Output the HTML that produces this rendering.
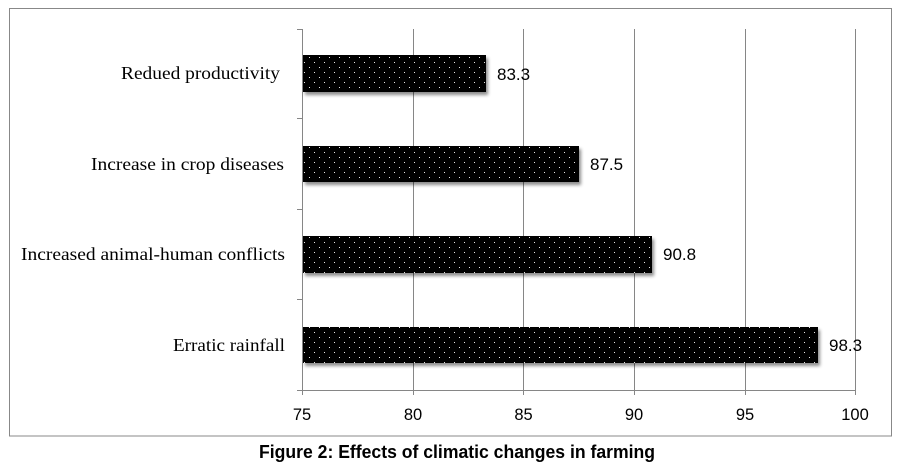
<!DOCTYPE html>
<html>
<head>
<meta charset="utf-8">
<style>
  html, body { margin:0; padding:0; background:#fff; }
  svg { display:block; }
</style>
</head>
<body>
<svg width="897" height="468" viewBox="0 0 897 468" xmlns="http://www.w3.org/2000/svg">
  <defs>
    <pattern id="dots" x="302" y="0" width="10" height="10" patternUnits="userSpaceOnUse">
      <rect width="10" height="10" fill="#000"/>
      <rect x="2" y="2" width="1" height="1" fill="#e8e8e8"/>
      <rect x="7" y="7" width="1" height="1" fill="#e8e8e8"/>
    </pattern>
    <filter id="sh" x="-5%" y="-20%" width="110%" height="160%">
      <feDropShadow dx="2" dy="3" stdDeviation="1.6" flood-color="#000" flood-opacity="0.45"/>
    </filter>
  </defs>

  <rect x="0" y="0" width="897" height="468" fill="#fff"/>
  <!-- outer border -->
  <rect x="9.5" y="8.5" width="882" height="427.5" fill="none" stroke="#888" stroke-width="1"/>

  <!-- gridlines -->
  <g stroke="#868686" stroke-width="1">
    <line x1="413.5" y1="29" x2="413.5" y2="395"/>
    <line x1="523.5" y1="29" x2="523.5" y2="395"/>
    <line x1="634.5" y1="29" x2="634.5" y2="395"/>
    <line x1="745.5" y1="29" x2="745.5" y2="395"/>
    <line x1="855.5" y1="29" x2="855.5" y2="395"/>
    <!-- y axis -->
    <line x1="302.5" y1="29" x2="302.5" y2="395"/>
    <!-- x axis -->
    <line x1="297" y1="390.5" x2="856" y2="390.5"/>
    <!-- y ticks -->
    <line x1="297" y1="29.5" x2="302" y2="29.5"/>
    <line x1="297" y1="118.5" x2="302" y2="118.5"/>
    <line x1="297" y1="209.5" x2="302" y2="209.5"/>
    <line x1="297" y1="299.5" x2="302" y2="299.5"/>
  </g>

  <!-- bars -->
  <g filter="url(#sh)">
    <rect x="303" y="55" width="183" height="37" fill="url(#dots)"/>
    <rect x="303" y="146" width="276" height="36" fill="url(#dots)"/>
    <rect x="303" y="236" width="349" height="37" fill="url(#dots)"/>
    <rect x="303" y="327" width="515" height="36" fill="url(#dots)"/>
  </g>

  <!-- category labels -->
  <g font-family="Liberation Serif, serif" font-size="17.5" fill="#000" text-anchor="end">
    <text x="280" y="79" textLength="159" lengthAdjust="spacingAndGlyphs">Redued productivity</text>
    <text x="284" y="170" textLength="193" lengthAdjust="spacingAndGlyphs">Increase in crop diseases</text>
    <text x="285" y="260" textLength="264" lengthAdjust="spacingAndGlyphs">Increased animal-human conflicts</text>
    <text x="285" y="351" textLength="112" lengthAdjust="spacingAndGlyphs">Erratic rainfall</text>
  </g>

  <!-- value labels -->
  <g font-family="Liberation Sans, sans-serif" font-size="17" fill="#000">
    <text x="497" y="80">83.3</text>
    <text x="590" y="170">87.5</text>
    <text x="663" y="260">90.8</text>
    <text x="829" y="351">98.3</text>
  </g>

  <!-- x tick labels -->
  <g font-family="Liberation Sans, sans-serif" font-size="16.5" fill="#000" text-anchor="middle">
    <text x="302" y="420">75</text>
    <text x="413" y="420">80</text>
    <text x="523.5" y="420">85</text>
    <text x="634" y="420">90</text>
    <text x="745" y="420">95</text>
    <text x="855" y="420">100</text>
  </g>

  <!-- caption -->
  <text x="259" y="458" font-family="Liberation Sans, sans-serif" font-weight="bold" font-size="18.5" fill="#000" textLength="396" lengthAdjust="spacingAndGlyphs">Figure 2: Effects of climatic changes in farming</text>
</svg>
</body>
</html>
